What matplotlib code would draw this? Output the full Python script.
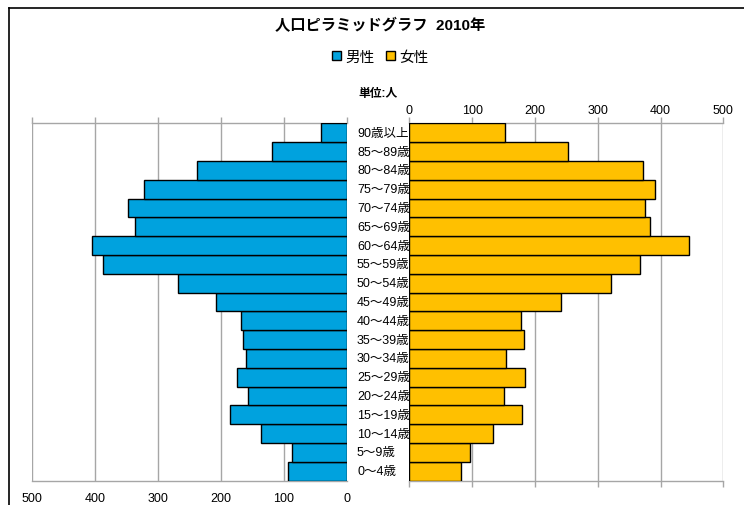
import matplotlib
matplotlib.use('Agg')
import matplotlib.pyplot as plt
from matplotlib.patches import Patch
from matplotlib.lines import Line2D

plt.rcParams['font.family'] = ['Liberation Sans', 'Noto Sans CJK JP', 'DejaVu Sans']

# data (people), youngest first
ages = ['0～4歳', '5～9歳', '10～14歳', '15～19歳', '20～24歳', '25～29歳', '30～34歳',
        '35～39歳', '40～44歳', '45～49歳', '50～54歳', '55～59歳', '60～64歳',
        '65～69歳', '70～74歳', '75～79歳', '80～84歳', '85～89歳', '90歳以上']
male = [93, 88, 136, 185, 157, 175, 161, 165, 168, 208, 269, 387, 405,
        336, 347, 323, 238, 119, 42]
female = [82, 97, 134, 179, 151, 185, 154, 182, 178, 241, 321, 368, 446,
          384, 376, 391, 372, 253, 153]
ticks = [0, 100, 200, 300, 400, 500]

male_color = '#00A2DE'
female_color = '#FFC000'
grid_color = '#A6A6A6'

W, H = 744, 506
fig = plt.figure(figsize=(W / 100, H / 100), dpi=100)

def box(x0, y0, x1, y1):
    return [x0 / W, 1 - y1 / H, (x1 - x0) / W, (y1 - y0) / H]

axl = fig.add_axes(box(32, 124.3, 347, 481.7))
axr = fig.add_axes(box(409.3, 124.3, 723.3, 481.7))

y = list(range(len(ages)))

axl.barh(y, male, height=1.0, color=male_color, edgecolor='black', linewidth=1, zorder=3)
axr.barh(y, female, height=1.0, color=female_color, edgecolor='black', linewidth=1, zorder=3)

for ax in (axl, axr):
    ax.set_ylim(-0.5, len(ages) - 0.5)
    ax.set_xticks(ticks)
    ax.set_yticks([])
    ax.grid(axis='x', color=grid_color, linewidth=1, zorder=0)
    for s in ('left', 'right'):
        ax.spines[s].set_visible(False)
    for s in ('top', 'bottom'):
        ax.spines[s].set_color(grid_color)
        ax.spines[s].set_linewidth(1)

axl.set_xlim(500, 0)
axl.tick_params(axis='x', top=True, bottom=False, labeltop=False, labelbottom=True,
                direction='out', length=4, color=grid_color, width=1,
                labelsize=9, pad=4)

axr.set_xlim(0, 500)
axr.tick_params(axis='x', top=True, bottom=True, labeltop=True, labelbottom=False,
                direction='out', length=4, color=grid_color, width=1,
                labelsize=9, pad=1)

# age labels in the gap between the panels
for i, lab in enumerate(ages):
    yc = 481.7 - (i + 0.5) * (481.7 - 124.3) / len(ages)
    fig.text(357 / W, 1 - yc / H, lab, ha='left', va='center', fontsize=9)

fig.text(380 / W, 1 - 26 / H, '人口ピラミッドグラフ  2010年', ha='center', va='center',
         fontsize=11, fontweight='bold')
fig.text(378 / W, 1 - 94 / H, '単位:人', ha='center', va='center',
         fontsize=8.5, fontweight='bold')

handles = [Patch(facecolor=male_color, edgecolor='black', label='男性'),
           Patch(facecolor=female_color, edgecolor='black', label='女性')]
fig.legend(handles=handles, loc='center', bbox_to_anchor=(380 / W, 1 - 58 / H),
           ncol=2, frameon=False, fontsize=10.5, handlelength=0.6, handleheight=0.6,
           handletextpad=0.3, columnspacing=0.8)

# outer chart frame (left and top edges visible)
fig.add_artist(Line2D([9 / W, 9 / W], [0, 1 - 9 / H], color='black', linewidth=1.2))
fig.add_artist(Line2D([9 / W, 1], [1 - 9 / H, 1 - 9 / H], color='black', linewidth=1.2))

fig.savefig('out.png', dpi=100)
